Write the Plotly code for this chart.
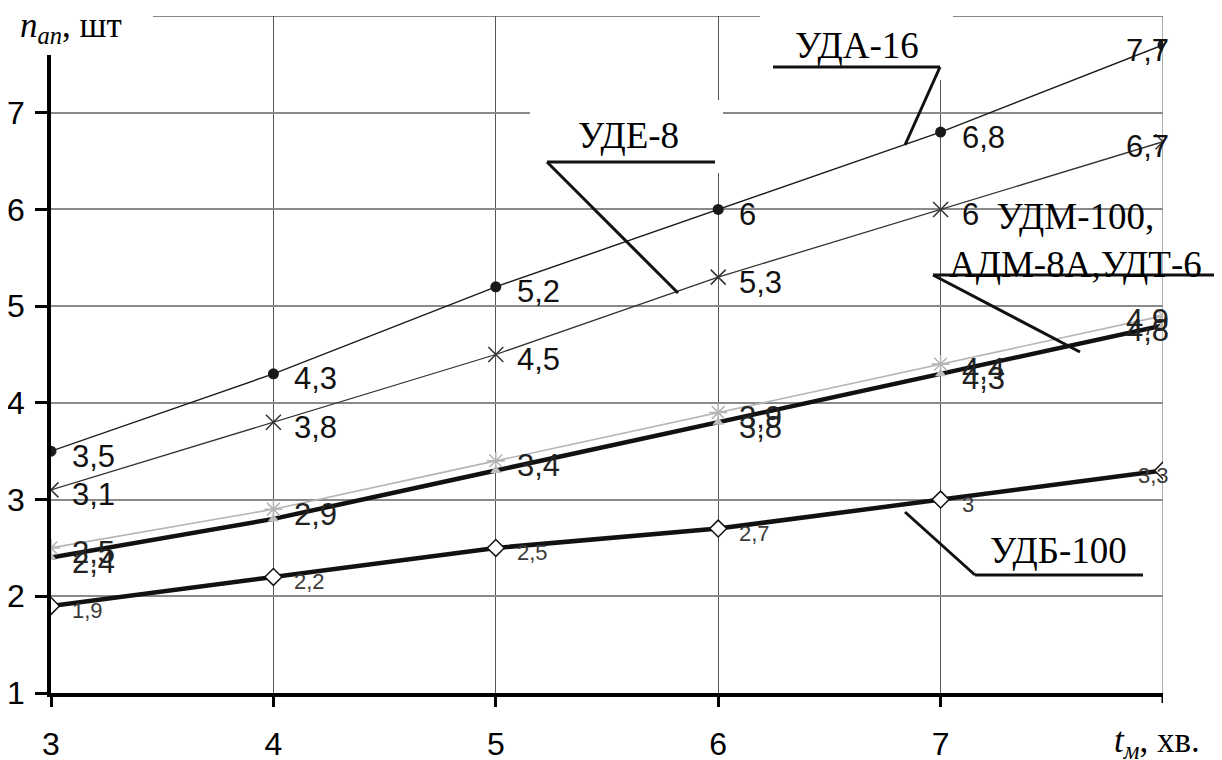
import plotly.graph_objects as go

# ---- data ----
t_min = [3, 4, 5, 6, 7, 8]
uda16 = [3.5, 4.3, 5.2, 6.0, 6.8, 7.7]
ude8 = [3.1, 3.8, 4.5, 5.3, 6.0, 6.7]
udm100 = [2.5, 2.9, 3.4, 3.9, 4.4, 4.9]
adm_udt = [2.4, 2.8, 3.3, 3.8, 4.3, 4.8]
udb100 = [1.9, 2.2, 2.5, 2.7, 3.0, 3.3]
adm_label_idx = [0, 3, 4, 5]          # labels shown for the thick line
x_ticks = [3, 4, 5, 6, 7]
y_ticks = [1, 2, 3, 4, 5, 6, 7]
x_max, y_max = 8, 8

# page has an 8px body margin, so the figure starts at (8, 8) on screen
OFF = 8
W, H = 1222 - OFF, 760 - OFF
L, R, T, B = 51 - OFF, 59, 16 - OFF, 67
PW, PH = W - L - R, H - T - B


def px(x):          # screen pixel -> paper fraction
    return (x - 51) / PW


def py(y):
    return (693 - y) / PH


SANS = "Liberation Sans, Arial, sans-serif"
SERIF = "Liberation Serif, Times New Roman, serif"

fig = go.Figure()

fig.add_trace(go.Scatter(
    x=t_min, y=udb100, name="УДБ-100", mode="lines+markers",
    line=dict(color="#111111", width=4.5),
    marker=dict(symbol="diamond", size=13, color="white",
                line=dict(color="#111111", width=1.5))))
fig.add_trace(go.Scatter(
    x=t_min, y=adm_udt, name="АДМ-8А, УДТ-6", mode="lines+markers",
    line=dict(color="#111111", width=4.5),
    marker=dict(symbol="triangle-up", size=10, color="#bdbdbd")))
fig.add_trace(go.Scatter(
    x=t_min, y=udm100, name="УДМ-100", mode="lines+markers",
    line=dict(color="#b5b5b5", width=1.6),
    marker=dict(symbol="asterisk-open", size=15,
                line=dict(color="#b0b0b0", width=1.6))))
fig.add_trace(go.Scatter(
    x=t_min, y=ude8, name="УДЕ-8", mode="lines+markers",
    line=dict(color="#333333", width=1.3),
    marker=dict(symbol="x-thin-open", size=15,
                line=dict(color="#333333", width=1.5))))
fig.add_trace(go.Scatter(
    x=t_min, y=uda16, name="УДА-16", mode="lines+markers",
    line=dict(color="#1a1a1a", width=1.4),
    marker=dict(symbol="circle", size=11, color="#1a1a1a")))

annotations = []


def fmt(v):
    return f"{v:g}".replace(".", ",")


def add_labels(xs, ys, idx, size, color):
    for i in idx:
        last = xs[i] == max(xs)
        annotations.append(dict(
            x=xs[i], y=ys[i], xref="x", yref="y", text=fmt(ys[i]),
            showarrow=False, xanchor="right" if last else "left",
            yanchor="middle", xshift=8 if last else 19, yshift=-5,
            font=dict(family=SANS, size=size, color=color)))


add_labels(t_min, uda16, range(6), 31, "#111111")
add_labels(t_min, ude8, range(6), 31, "#111111")
add_labels(t_min, udm100, range(6), 31, "#222222")
add_labels(t_min, adm_udt, adm_label_idx, 31, "#222222")
add_labels(t_min, udb100, range(6), 22, "#3a3a3a")

# axis titles
annotations.append(dict(
    x=px(18), y=py(27), xref="paper", yref="paper", showarrow=False,
    xanchor="left", yanchor="middle",
    text="<i>n</i><sub><i>ап</i></sub>, шт",
    font=dict(family=SERIF, size=35, color="black")))
annotations.append(dict(
    x=px(1112), y=py(742), xref="paper", yref="paper", showarrow=False,
    xanchor="left", yanchor="middle",
    text="<i>t</i><sub><i>м</i></sub>, хв.",
    font=dict(family=SERIF, size=35, color="black")))

# callout texts
callouts = [
    ("УДА-16", 857, 45),
    ("УДЕ-8", 628, 136),
    ("УДМ-100,<br>АДМ-8А,УДТ-6", 1075, 240),
    ("УДБ-100", 1058, 550),
]
for txt, cx, cy in callouts:
    annotations.append(dict(
        x=px(cx), y=py(cy), xref="paper", yref="paper", showarrow=False,
        xanchor="center", yanchor="middle", text=txt,
        font=dict(family=SERIF, size=37, color="black")))

shapes = []
# outer grid lines at the top (y = 8) and right (x = 8), plus tick at x = 8
shapes.append(dict(type="line", xref="x", yref="y", x0=3, x1=x_max,
                   y0=y_max, y1=y_max, layer="below",
                   line=dict(color="#8a8a8a", width=2)))
shapes.append(dict(type="line", xref="x", yref="y", x0=x_max, x1=x_max,
                   y0=1, y1=y_max, layer="below",
                   line=dict(color="#777777", width=1.2)))
shapes.append(dict(type="line", xref="x", yref="paper", x0=x_max, x1=x_max,
                   y0=0, y1=-10 / PH, layer="above",
                   line=dict(color="black", width=3)))

# white label boxes (gaps in the grid)
for x0, y0, x1, y1 in [(28, 0, 153, 55), (530, 100, 723, 173),
                       (760, 5, 953, 80)]:
    shapes.append(dict(type="rect", xref="paper", yref="paper",
                       x0=px(x0), x1=px(x1), y0=py(y1), y1=py(y0),
                       fillcolor="white", line=dict(width=0), layer="above"))

# callout underline + leader lines
segs = [
    ((773, 67), (940, 67), 3), ((940, 67), (905, 145), 3),
    ((547, 162), (715, 162), 3), ((547, 162), (678, 293), 3),
    ((933, 275), (1218, 275), 3), ((933, 275), (1080, 352), 3),
    ((975, 575), (1143, 575), 3), ((975, 575), (905, 512), 3),
]
for (x0, y0), (x1, y1), w in segs:
    shapes.append(dict(type="line", xref="paper", yref="paper",
                       x0=px(x0), y0=py(y0), x1=px(x1), y1=py(y1),
                       line=dict(color="#111111", width=w), layer="above"))

fig.update_layout(
    width=W, height=H, margin=dict(l=L, r=R, t=T, b=B, autoexpand=False),
    paper_bgcolor="white", plot_bgcolor="white", showlegend=False,
    annotations=annotations, shapes=shapes,
    xaxis=dict(range=[3, x_max], tickvals=x_ticks,
               automargin=False,
               showgrid=True, gridcolor="#555555", gridwidth=1.2,
               showline=True, linecolor="black", linewidth=3.5,
               ticks="outside", ticklen=10, tickwidth=3, tickcolor="black",
               ticklabelstandoff=10, zeroline=False,
               tickfont=dict(family=SANS, size=32, color="black")),
    yaxis=dict(range=[1, y_max], tickvals=y_ticks,
               automargin=False,
               showgrid=True, gridcolor="#8a8a8a", gridwidth=2,
               showline=True, linecolor="black", linewidth=3.5,
               ticks="outside", ticklen=12, tickwidth=3, tickcolor="black",
               ticklabelstandoff=4, zeroline=False,
               tickfont=dict(family=SANS, size=32, color="black")),
)

fig.write_html("out.html")
